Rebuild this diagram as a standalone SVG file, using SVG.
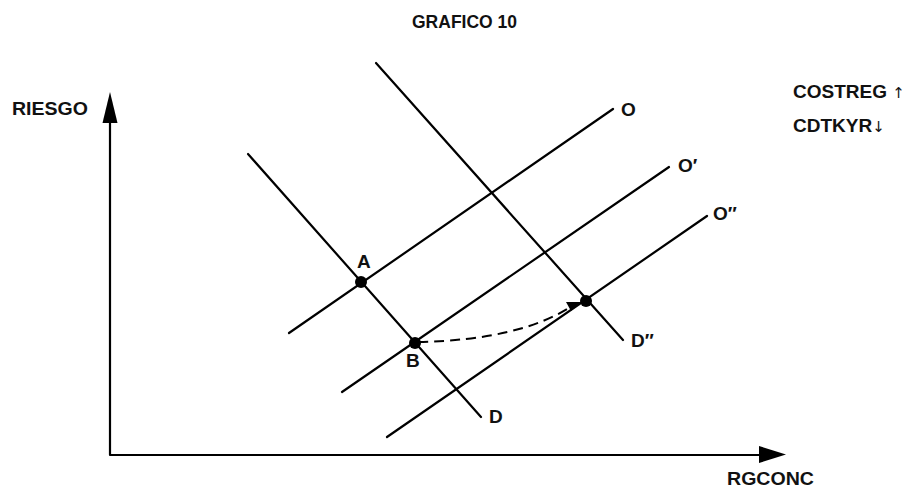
<svg xmlns="http://www.w3.org/2000/svg" width="907" height="495" viewBox="0 0 907 495">
<defs>
<style>
.ln{stroke:#000;stroke-width:2.2;fill:none;stroke-linecap:round}
.t{font-family:"Liberation Sans",Arial,sans-serif;font-weight:bold;fill:#111;font-size:19px}
.ar{font-family:"DejaVu Sans",sans-serif;font-weight:normal;font-size:15px;fill:#111}
.dot{fill:#000}
</style>
</defs>
<rect width="907" height="495" fill="#fff"/>
<text class="t" x="412" y="28" font-size="17.5" textLength="105" lengthAdjust="spacingAndGlyphs">GRAFICO 10</text>
<g id="axes">
<path class="ln" d="M110,455 L110,120 M110,455 L762,455"/>
<path d="M110,92 L117.5,123 L102.5,123 z" fill="#000"/>
<path d="M786,454.5 L759,446 L759,463 z" fill="#000"/>
<text class="t" x="12" y="115" textLength="76" lengthAdjust="spacingAndGlyphs">RIESGO</text>
<text class="t" x="727" y="485" textLength="87" lengthAdjust="spacingAndGlyphs">RGCONC</text>
</g>
<g id="connectors">
<path id="O" class="ln" d="M289,333 L613,109"/>
<path id="Op" class="ln" d="M342,392 L669,167"/>
<path id="Opp" class="ln" d="M387,437 L707,216"/>
<path id="D" class="ln" d="M248,154 L481,417"/>
<path id="Dpp" class="ln" d="M376,63 L623,340"/>
<path id="shift" d="M418,342 Q520,340 572,306" fill="none" stroke="#000" stroke-width="2" stroke-dasharray="10,6"/>
<path d="M581,302 L566,302 L571,311 z" fill="#000"/>
</g>
<g id="labels">
<text class="t" x="621" y="116">O</text>
<text class="t" x="678" y="172">O′</text>
<text class="t" x="713" y="220">O′′</text>
<text class="t" x="489" y="423">D</text>
<text class="t" x="631" y="347">D′′</text>
</g>
<g id="nodeA"><circle class="dot" cx="361" cy="282" r="6"/><text class="t" x="357" y="268" font-size="18">A</text></g>
<g id="nodeB"><circle class="dot" cx="415" cy="343" r="6"/><text class="t" x="406" y="367" font-size="18">B</text></g>
<g id="nodeC"><circle class="dot" cx="586" cy="301" r="6"/></g>
<g id="legend">
<text class="t" x="793" y="98" font-size="16.6">COSTREG <tspan class="ar">↑</tspan></text>
<text class="t" x="793" y="132" font-size="17.5">CDTKYR<tspan class="ar">↓</tspan></text>
</g>
</svg>
